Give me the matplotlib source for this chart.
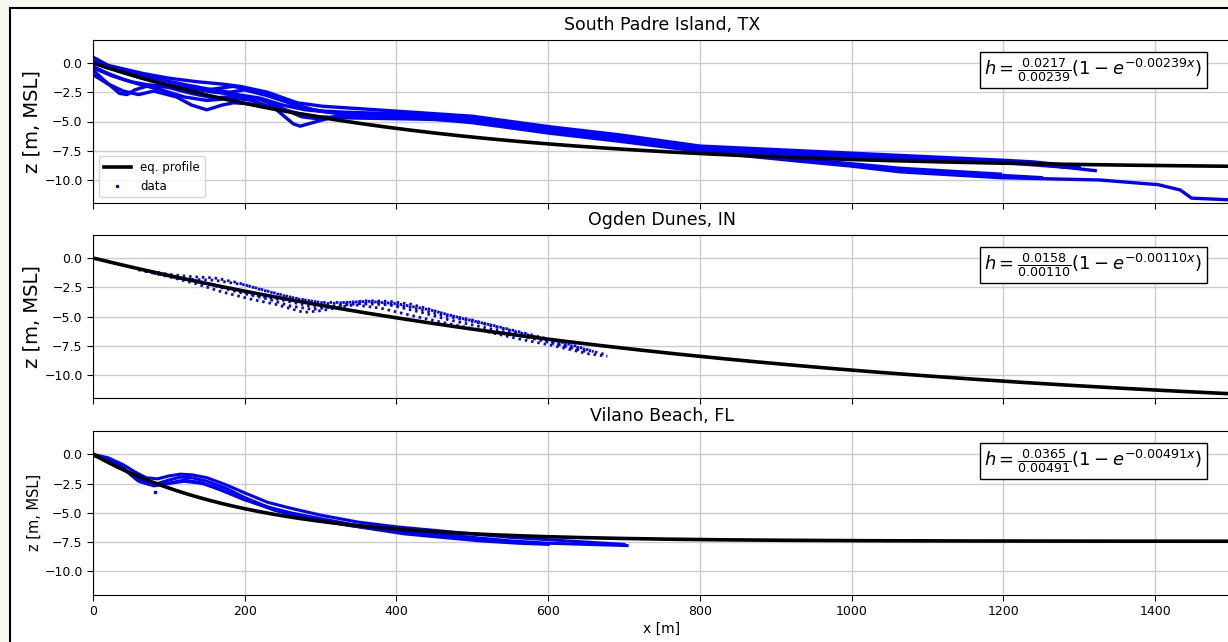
import numpy as np
import matplotlib
matplotlib.use("Agg")
import matplotlib.pyplot as plt
from matplotlib.lines import Line2D
from matplotlib.patches import Rectangle

# ---------------- data ----------------
site_names = ["South Padre Island, TX", "Ogden Dunes, IN", "Vilano Beach, FL"]
coef_A = [0.0217, 0.0158, 0.0365]
coef_B = [0.00239, 0.00110, 0.00491]
x_ticks = [0, 200, 400, 600, 800, 1000, 1200, 1400]
y_ticks = [0.0, -2.5, -5.0, -7.5, -10.0]

# South Padre Island profiles (x [m], z [m])
spi_x1 = [0, 20, 66, 100, 137, 170, 194, 230, 269, 303, 350, 431, 500, 602, 695, 800, 932, 1064, 1196, 1239, 1300]
spi_z1 = [0.5, -0.2, -0.9, -1.3, -1.6, -1.8, -2.0, -2.5, -3.4, -3.7, -3.9, -4.25, -4.55, -5.45, -6.15, -7.1, -7.5, -7.9, -8.3, -8.45, -8.85]
spi_x2 = [0, 15, 35, 45, 55, 75, 100, 130, 160, 190, 220, 250, 280, 310, 350, 431, 500, 602, 695, 800, 932, 1064, 1196, 1239, 1321]
spi_z2 = [-0.6, -1.5, -2.6, -2.7, -2.3, -1.9, -2.0, -2.2, -2.5, -2.7, -3.0, -3.6, -4.0, -4.2, -4.3, -4.5, -4.7, -5.6, -6.3, -7.2, -7.6, -8.0, -8.4, -8.6, -9.2]
spi_x3 = [0, 20, 40, 60, 90, 120, 150, 185, 210, 240, 264, 273, 295, 317, 360, 431, 500, 602, 695, 800, 932, 1064, 1150]
spi_z3 = [-0.3, -0.9, -1.4, -1.8, -2.3, -2.9, -3.2, -3.0, -3.2, -3.9, -5.2, -5.4, -5.0, -4.6, -4.5, -4.6, -4.8, -5.7, -6.45, -7.3, -7.75, -8.1, -8.3]
spi_x4 = [0, 20, 40, 60, 80, 110, 130, 150, 170, 185, 210, 240, 270, 300, 340, 431, 500, 602, 695, 800, 932, 1064, 1196, 1280]
spi_z4 = [-1.0, -1.8, -2.4, -2.7, -2.4, -2.9, -3.6, -4.0, -3.6, -3.4, -3.5, -3.8, -4.3, -4.6, -4.7, -4.8, -4.9, -5.8, -6.5, -7.4, -7.85, -8.15, -8.5, -8.9]
spi_x5 = [0, 30, 60, 90, 120, 150, 185, 215, 245, 275, 300, 330, 380, 431, 500, 602, 695, 800, 932, 998, 1064, 1196]
spi_z5 = [0.0, -0.6, -1.2, -1.7, -2.1, -2.3, -2.0, -2.4, -3.1, -3.8, -4.1, -4.2, -4.3, -4.4, -5.0, -5.9, -6.6, -7.45, -8.2, -8.6, -9.0, -9.5]
spi_x6 = [0, 25, 50, 75, 100, 130, 160, 190, 220, 250, 275, 300, 330, 380, 431, 500, 602, 695, 800, 932, 998, 1064, 1196, 1327, 1404, 1433, 1448, 1500]
spi_z6 = [-0.4, -1.1, -1.6, -1.9, -2.1, -2.6, -3.0, -2.8, -3.1, -3.9, -4.6, -4.8, -4.6, -4.5, -4.7, -5.1, -6.0, -6.7, -7.55, -8.4, -8.8, -9.3, -9.8, -10.0, -10.4, -10.85, -11.55, -11.7]
spi_x7 = [0, 30, 60, 95, 125, 150, 180, 200, 230, 260, 290, 320, 360, 431, 500, 602, 695, 800, 932, 998, 1064, 1196, 1250]
spi_z7 = [0.2, -0.5, -1.0, -1.5, -1.9, -2.2, -2.5, -2.3, -2.8, -3.4, -4.0, -4.3, -4.4, -4.6, -4.95, -5.85, -6.55, -7.5, -8.3, -8.7, -9.15, -9.6, -9.8]

# Ogden Dunes profiles
od_x1 = [60, 100, 130, 160, 190, 221, 250, 280, 310, 334, 362, 390, 419, 442, 470, 500, 540, 580, 620, 640]
od_z1 = [-0.95, -1.4, -1.6, -1.7, -2.1, -2.7, -3.2, -3.6, -3.9, -3.8, -3.65, -3.7, -3.95, -4.35, -4.9, -5.3, -6.0, -6.7, -7.5, -7.9]
od_x2 = [60, 100, 136, 170, 207, 240, 278, 301, 325, 345, 380, 419, 460, 513, 560, 607, 654, 678]
od_z2 = [-1.0, -1.6, -2.2, -2.9, -3.5, -3.95, -4.65, -4.5, -4.2, -4.0, -4.3, -4.9, -5.5, -6.2, -6.9, -7.5, -8.2, -8.4]
od_x3 = [60, 100, 140, 180, 215, 250, 285, 310, 340, 375, 419, 460, 513, 560, 607, 654, 678]
od_z3 = [-1.0, -1.5, -2.0, -2.6, -3.2, -3.6, -4.1, -4.2, -3.9, -3.8, -4.2, -4.9, -5.6, -6.4, -7.1, -7.9, -8.3]
od_x4 = [70, 110, 150, 190, 230, 260, 290, 320, 350, 390, 430, 470, 513, 560, 607, 650]
od_z4 = [-1.1, -1.7, -2.2, -2.9, -3.5, -4.1, -4.4, -4.1, -3.9, -4.0, -4.6, -5.3, -5.9, -6.6, -7.3, -8.0]
od_x5 = [80, 120, 160, 200, 240, 270, 300, 334, 362, 400, 442, 489, 530, 580, 630, 660]
od_z5 = [-1.3, -1.8, -1.9, -2.3, -3.0, -3.5, -3.8, -3.8, -3.7, -3.9, -4.4, -5.2, -5.8, -6.6, -7.4, -8.0]

# Vilano Beach profiles
vb_x1 = [0, 20, 40, 55, 70, 85, 100, 115, 130, 150, 175, 200, 230, 260, 300, 350, 400, 450, 500, 550, 600, 650, 700]
vb_z1 = [0.0, -0.3, -0.9, -1.5, -2.0, -2.1, -1.85, -1.7, -1.75, -2.0, -2.6, -3.3, -4.1, -4.6, -5.2, -5.8, -6.2, -6.5, -6.8, -7.1, -7.3, -7.5, -7.7]
vb_x2 = [0, 20, 40, 55, 70, 85, 100, 115, 130, 150, 175, 200, 230, 260, 300, 350, 400, 450, 500, 550, 600, 650, 704]
vb_z2 = [0.0, -0.4, -1.2, -2.0, -2.4, -2.5, -2.2, -1.95, -2.0, -2.3, -2.9, -3.7, -4.5, -5.0, -5.5, -6.1, -6.5, -6.8, -7.1, -7.4, -7.6, -7.7, -7.8]
vb_x3 = [0, 25, 45, 60, 75, 90, 105, 120, 140, 160, 185, 210, 240, 270, 310, 360, 410, 460, 510, 560, 600]
vb_z3 = [-0.1, -0.6, -1.5, -2.3, -2.6, -2.6, -2.4, -2.2, -2.4, -2.8, -3.4, -4.1, -4.8, -5.3, -5.8, -6.3, -6.8, -7.1, -7.4, -7.6, -7.7]
vb_x4 = [10, 30, 50, 65, 80, 100, 120, 145, 170, 200, 240, 290, 340, 400, 460, 520, 580]
vb_z4 = [-0.2, -0.7, -1.7, -2.3, -2.7, -2.5, -2.3, -2.5, -3.1, -3.9, -4.7, -5.5, -6.1, -6.6, -7.0, -7.3, -7.6]
vb_out_x = [82]
vb_out_z = [-3.2]

profiles = [
    [(spi_x1, spi_z1), (spi_x2, spi_z2), (spi_x3, spi_z3), (spi_x4, spi_z4),
     (spi_x5, spi_z5), (spi_x6, spi_z6), (spi_x7, spi_z7)],
    [(od_x1, od_z1), (od_x2, od_z2), (od_x3, od_z3), (od_x4, od_z4), (od_x5, od_z5)],
    [(vb_x1, vb_z1), (vb_x2, vb_z2), (vb_x3, vb_z3), (vb_x4, vb_z4)],
]

# ---------------- figure ----------------
W, H = 1228, 642
fig = plt.figure(figsize=(W / 100, H / 100), dpi=100, facecolor="#f9f9f2")
fig.patches.append(Rectangle((10 / W, -0.1), 1.2, 1 - 8 / H + 0.1, transform=fig.transFigure,
                             facecolor="white", edgecolor="black", lw=1.5, zorder=-10))

ax_left = 93 / W
ax_w = 1138 / W
ax_h = 163.8 / H
tops = [39.6, 234.6, 430.9]
axes = []
for i, t in enumerate(tops):
    ax = fig.add_axes([ax_left, 1 - (t + 163.8) / H, ax_w, ax_h])
    axes.append(ax)

xs = np.linspace(0, 1500, 400)
for i, ax in enumerate(axes):
    ax.set_xlim(0, 1500)
    ax.set_ylim(-12, 2)
    ax.set_xticks(x_ticks)
    ax.set_yticks(y_ticks)
    ax.set_yticklabels([f"{v:.1f}".replace("-", "\u2212") for v in y_ticks])
    ax.grid(True, color="#cccccc", lw=1.0)
    ax.set_axisbelow(True)
    ax.tick_params(labelsize=9, length=4)
    if i < 2:
        ax.tick_params(labelbottom=False)
    ax.set_title(site_names[i], fontsize=12.5, pad=7)

    for (px, pz) in profiles[i]:
        if i == 1:
            ax.plot(px, pz, color="blue", lw=2.0, ls=(0, (0.9, 1.4)), dash_capstyle="butt", zorder=2)
        elif i == 0:
            ax.plot(px, pz, color="blue", lw=2.4, zorder=2)
        else:
            ax.plot(px, pz, color="blue", lw=2.2, zorder=2)
    if i == 2:
        ax.plot(vb_out_x, vb_out_z, ls="none", marker="s", ms=2, color="blue", zorder=2)

    h = coef_A[i] / coef_B[i] * (1 - np.exp(-coef_B[i] * xs))
    ax.plot(xs, -h, color="black", lw=2.6, zorder=3)

    formula = r"$h=\frac{%.4f}{%.5f}(1-e^{-%.5fx})$" % (coef_A[i], coef_B[i], coef_B[i])
    ax.text(0.975, 0.9, formula, transform=ax.transAxes, ha="right", va="top", fontsize=13,
            bbox=dict(boxstyle="square,pad=0.22", fc="white", ec="black", lw=1.0), zorder=5)

    if i < 2:
        ax.set_ylabel("z [m, MSL]", fontsize=14)
    else:
        ax.set_ylabel("z [m, MSL]", fontsize=10.5)
    ax.yaxis.set_label_coords(-0.045, 0.5)

axes[2].set_xlabel("x [m]", fontsize=10, labelpad=3)

handles = [Line2D([], [], color="black", lw=2.6),
           Line2D([], [], color="blue", marker=".", ls="none", ms=3)]
axes[0].legend(handles, ["eq. profile", "data"], loc="lower left", fontsize=8.5, handlelength=2.3)

fig.savefig("out.png", dpi=100, facecolor=fig.get_facecolor())
